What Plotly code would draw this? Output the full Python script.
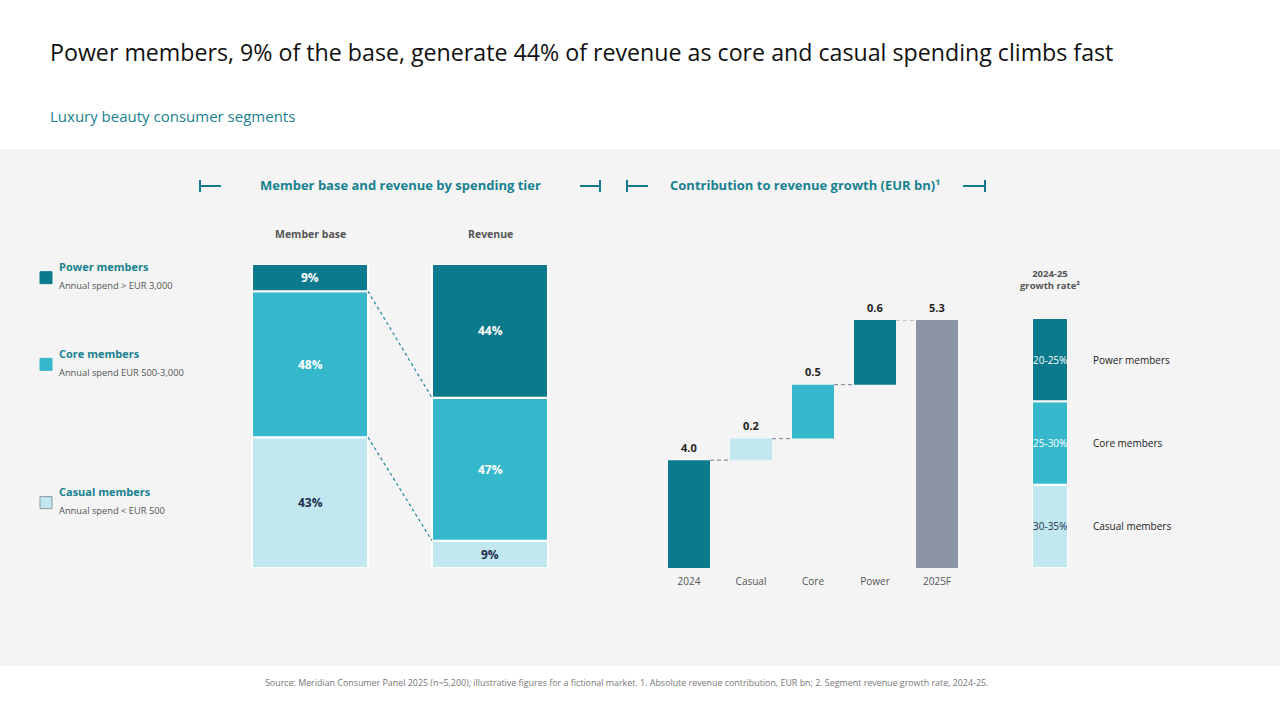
import plotly.graph_objects as go

# ---------------- data ----------------
segments = ["Power members", "Core members", "Casual members"]
segment_desc = ["Annual spend > EUR 3,000", "Annual spend EUR 500-3,000", "Annual spend < EUR 500"]
member_base = [9, 48, 43]          # % of members
revenue_share = [44, 47, 9]        # % of revenue
stack_categories = ["Member base", "Revenue"]

wf_categories = ["2024", "Casual", "Core", "Power", "2025F"]
wf_start = 4.0
wf_increments = [0.2, 0.5, 0.6]    # Casual, Core, Power
wf_end = 5.3

growth_labels = ["20-25%", "25-30%", "30-35%"]   # Power, Core, Casual

# ---------------- style ----------------
W, H = 1280, 720
FONT = "Open Sans"
C_POWER = "#0b7a8c"
C_CORE = "#35b8cb"
C_CASUAL = "#c0e8ee"
C_TOTAL = "#8c94a6"
C_TEAL_TXT = "#17818f"
C_GREY_TXT = "#555555"
C_NAVY = "#1f2d4f"
seg_colors = [C_POWER, C_CORE, C_CASUAL]
seg_txt = ["white", "white", C_NAVY]


def px(x):
    return x / W


def py(y):
    return 1 - y / H


fig = go.Figure()
annotations = []
shapes = []


def note(**kw):
    kw.setdefault("showarrow", False)
    kw.setdefault("xanchor", "center")
    kw.setdefault("yanchor", "middle")
    annotations.append(kw)


# grey panel
shapes.append(dict(type="rect", xref="paper", yref="paper", x0=0, x1=1, y0=py(666), y1=py(149),
                   fillcolor="#f4f4f4", line=dict(width=0), layer="below"))

# ---------------- stacked bars (member base / revenue) ----------------
STACK_W = 116 / 180
series = [member_base, revenue_share]
# bottom-up order: casual, core, power
for si in reversed(range(len(segments))):
    ys, bases = [], []
    for col in series:
        base = sum(col[j] for j in range(si + 1, len(segments)))
        ys.append(col[si])
        bases.append(base)
    fig.add_trace(go.Bar(x=[0, 1], y=ys, base=bases, width=STACK_W,
                         marker=dict(color=seg_colors[si], line=dict(color="white", width=2)),
                         xaxis="x", yaxis="y", hoverinfo="skip", showlegend=False))
    for k in range(2):
        note(x=k, y=bases[k] + ys[k] / 2, xref="x", yref="y",
             text=f"<b>{ys[k]}%</b>",
             font=dict(family=FONT, size=12, color=seg_txt[si]))

# dashed connectors between stacked bars (top of core, top of casual)
cx, cy = [], []
for si in [1, 2]:
    top_mb = sum(member_base[si:])
    top_rv = sum(revenue_share[si:])
    cx += [0 + STACK_W / 2, 1 - STACK_W / 2, None]
    cy += [top_mb, top_rv, None]
fig.add_trace(go.Scatter(x=cx, y=cy, mode="lines", xaxis="x", yaxis="y",
                         line=dict(color="#1a8797", width=1.2, dash="3px,3px"),
                         hoverinfo="skip", showlegend=False))

for k, name in enumerate(stack_categories):
    note(x=k, y=py(234), xref="x", yref="paper", text=f"<b>{name}</b>",
         font=dict(family=FONT, size=10.5, color=C_GREY_TXT))

# ---------------- legend (aligned with member-base segments) ----------------
for si, name in enumerate(segments):
    mid = sum(member_base[si + 1:]) + member_base[si] / 2
    shapes.append(dict(type="rect", xref="paper", yref="y", x0=px(40), x1=px(52),
                       ysizemode="pixel", yanchor=mid, y0=-6, y1=6,
                       fillcolor=seg_colors[si],
                       line=dict(color="#8a9aa6" if si == 2 else seg_colors[si], width=1)))
    note(x=px(57), y=mid, xref="paper", yref="y", yshift=11, xanchor="left",
         text=f"<b>{name}</b>",
         font=dict(family=FONT, size=11, color=C_TEAL_TXT))
    note(x=px(57), y=mid, xref="paper", yref="y", yshift=-8, xanchor="left",
         text=segment_desc[si],
         font=dict(family=FONT, size=9.3, color=C_GREY_TXT))

# ---------------- waterfall ----------------
WF_W = 42 / 62
wf_tops, wf_bases, wf_vals = [], [], []
level = wf_start
wf_vals.append(wf_start); wf_bases.append(0); wf_tops.append(wf_start)
for inc in wf_increments:
    wf_vals.append(inc); wf_bases.append(level); level += inc; wf_tops.append(level)
wf_vals.append(wf_end); wf_bases.append(0); wf_tops.append(wf_end)
wf_colors = [C_POWER, C_CASUAL, C_CORE, C_POWER, C_TOTAL]
xs = list(range(len(wf_categories)))
fig.add_trace(go.Bar(x=xs, y=wf_vals, base=wf_bases, width=WF_W,
                     marker=dict(color=wf_colors, line=dict(width=0)),
                     xaxis="x2", yaxis="y2", hoverinfo="skip", showlegend=False))
# connectors
kx, ky = [], []
for i in range(len(xs) - 1):
    kx += [i + WF_W / 2, i + 1 - WF_W / 2, None]
    ky += [wf_tops[i], wf_tops[i], None]
fig.add_trace(go.Scatter(x=kx, y=ky, mode="lines", xaxis="x2", yaxis="y2",
                         line=dict(color="#8c94a6", width=1.2, dash="4px,3px"),
                         hoverinfo="skip", showlegend=False))
for i in xs:
    note(x=i, y=wf_tops[i], xref="x2", yref="y2", yshift=13,
         text=f"<b>{wf_vals[i]:.1f}</b>",
         font=dict(family=FONT, size=11, color="#222222"))

# ---------------- growth rate column ----------------
for si in reversed(range(len(segments))):
    base = len(segments) - 1 - si
    fig.add_trace(go.Bar(x=[0], y=[1], base=[base], width=1,
                         marker=dict(color=seg_colors[si], line=dict(color="white", width=2)),
                         xaxis="x3", yaxis="y3", hoverinfo="skip", showlegend=False))
    note(x=0, y=base + 0.5, xref="x3", yref="y3", text=growth_labels[si],
         font=dict(family=FONT, size=10, color=seg_txt[si]))
    note(x=px(1091), y=base + 0.5, xref="paper", yref="y3", text=segments[si], xanchor="left",
         font=dict(family=FONT, size=10, color="#222222"))
note(x=0, y=py(280), xref="x3", yref="paper",
     text="<b>2024-25<br>growth rate²</b>",
     font=dict(family=FONT, size=9.5, color=C_GREY_TXT))

# ---------------- titles / headers ----------------
note(x=px(48), y=py(52), xref="paper", yref="paper", xanchor="left",
     text="Power members, 9% of the base, generate 44% of revenue as core and casual spending climbs fast",
     font=dict(family=FONT, size=23.2, color="#111111"))
note(x=px(48), y=py(116), xref="paper", yref="paper", xanchor="left",
     text="Luxury beauty consumer segments",
     font=dict(family=FONT, size=15, color=C_TEAL_TXT))
note(x=px(400), y=py(185), xref="paper", yref="paper",
     text="<b>Member base and revenue by spending tier</b>",
     font=dict(family=FONT, size=13, color=C_TEAL_TXT))
note(x=px(805), y=py(185), xref="paper", yref="paper",
     text="<b>Contribution to revenue growth (EUR bn)¹</b>",
     font=dict(family=FONT, size=13, color=C_TEAL_TXT))
note(x=px(626), y=py(682), xref="paper", yref="paper",
     text="Source: Meridian Consumer Panel 2025 (n~5,200); illustrative figures for a fictional market. 1. Absolute revenue contribution, EUR bn; 2. Segment revenue growth rate, 2024-25.",
     font=dict(family=FONT, size=8.9, color="#777777"))

# brackets
for (xa, xb, tick) in [(200, 221, 200), (580, 600, 600), (627, 648, 627), (963, 985, 985)]:
    shapes.append(dict(type="line", xref="paper", yref="paper", x0=px(xa), x1=px(xb),
                       y0=py(186), y1=py(186), line=dict(color="#127a8a", width=2)))
    shapes.append(dict(type="line", xref="paper", yref="paper", x0=px(tick), x1=px(tick),
                       y0=py(180), y1=py(192), line=dict(color="#127a8a", width=2)))

hidden = dict(visible=False, fixedrange=True)
fig.update_layout(
    width=W, height=H, margin=dict(l=0, r=0, t=0, b=0),
    paper_bgcolor="white", plot_bgcolor="rgba(0,0,0,0)",
    barmode="overlay", showlegend=False,
    xaxis=dict(domain=[px(220), px(580)], range=[-0.5, 1.5], **hidden),
    yaxis=dict(domain=[py(568), py(264)], range=[0, 100], **hidden),
    xaxis2=dict(domain=[px(658), px(968)], range=[-0.5, 4.5], anchor="y2",
                tickvals=xs, ticktext=wf_categories, showgrid=False, zeroline=False,
                showline=False, ticks="outside", ticklen=4, tickcolor="rgba(0,0,0,0)",
                tickfont=dict(family=FONT, size=10, color=C_GREY_TXT),
                fixedrange=True),
    yaxis2=dict(domain=[py(568), py(320)], range=[3.0, 5.3], anchor="x2", **hidden),
    xaxis3=dict(domain=[px(1032), px(1068)], range=[-0.5, 0.5], anchor="y3", **hidden),
    yaxis3=dict(domain=[py(568), py(318)], range=[0, 3], anchor="x3", **hidden),
    annotations=annotations, shapes=shapes,
)

fig.write_html("out.html")
